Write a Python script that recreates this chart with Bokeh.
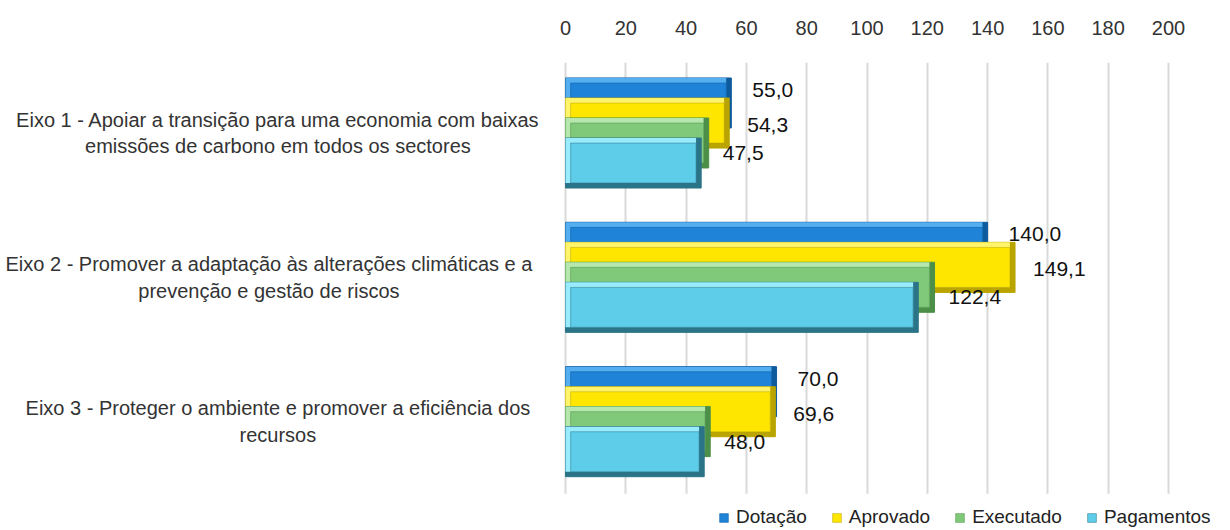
from bokeh.plotting import figure
from bokeh.models import FixedTicker, Range1d, Legend, LegendItem, BoxAnnotation
from bokeh.core.properties import value
from bokeh.embed import file_html
from bokeh.resources import INLINE

# ---------------- data ----------------
categories = [
    "Eixo 1 - Apoiar a transição para uma economia com baixas\nemissões de carbono em todos os sectores",
    "Eixo 2 - Promover a adaptação às alterações climáticas e a\nprevenção e gestão de riscos",
    "Eixo 3 - Proteger o ambiente e promover a eficiência dos\nrecursos",
]
series_names = ["Dotação", "Aprovado", "Executado", "Pagamentos"]
dotacao = [55.0, 140.0, 70.0]
aprovado = [54.3, 149.1, 69.6]
executado = [47.5, 122.4, 48.0]
pagamentos = [45.0, 117.0, 46.0]
x_ticks = [0, 20, 40, 60, 80, 100, 120, 140, 160, 180, 200]
labelled = [True, True, True, False]

series_values = [dotacao, aprovado, executado, pagamentos]

# ---------------- styles ----------------
FONT = "Liberation Sans"
colors = [  # (light bevel, main, dark bevel)
    ("#55aef0", "#1f83d8", "#0d5a9c"),
    ("#fff46a", "#ffe600", "#b9a400"),
    ("#b6e8ae", "#80c97a", "#4c8f48"),
    ("#98ecfd", "#5dcde9", "#2b7488"),
]
dodge = [-0.208, -0.069, 0.069, 0.208]
bar_h = 0.3465
bev_y = 0.035
bev_x = 1.7
label_dx = [21, 18, 14]
label_dy = [-13, 2, 10]

W, H = 1230, 530
px_per_x = 3.015
px_per_y = 144.33
frame_left, frame_top = 565, 62
x_start = -frame_left / px_per_x
x_end = (W - frame_left) / px_per_x
y_top = -0.4885
y_bottom = y_top + (H - frame_top) / px_per_y

p = figure(width=W, height=H, output_backend="svg", toolbar_location=None,
           x_range=Range1d(x_start, x_end), y_range=Range1d(y_bottom, y_top),
           x_axis_location="above",
           min_border_left=0, min_border_right=0, min_border_top=frame_top, min_border_bottom=0)
p.outline_line_color = None
p.background_fill_color = "white"
p.yaxis.visible = False

p.xgrid.ticker = FixedTicker(ticks=x_ticks)
p.xgrid.grid_line_color = "#d9d9d9"
p.xgrid.grid_line_width = 2
p.ygrid.grid_line_color = None

p.xaxis.ticker = FixedTicker(ticks=x_ticks)
p.xaxis.axis_line_color = None
p.xaxis.major_tick_line_color = None
p.xaxis.minor_tick_line_color = None
p.xaxis.major_label_standoff = 22
p.xaxis.major_label_text_font_size = "20px"
p.xaxis.major_label_text_font = FONT
p.xaxis.major_label_text_color = "#333333"

# white band below the last group so that grid lines stop there
p.add_layout(BoxAnnotation(top=len(categories) - 0.5, fill_color="white", fill_alpha=1,
                           line_color=None, level="underlay"))

n = len(categories)

# category labels: right edge left of the axis origin, lines centred in the block
cat_offsets = []
for c in categories:
    est_w = max(len(s) for s in c.split("\n")) * 8.95
    cat_offsets.append(-37 - est_w / 2)
p.text(x=[0] * n, y=list(range(n)), text=categories, x_offset=cat_offsets,
       text_font=value(FONT), text_font_size="20px", text_color="#333333",
       text_align="center", text_baseline="middle", text_line_height=1.2)

items = []
for si, (name, vals) in enumerate(zip(series_names, series_values)):
    light, main, dark = colors[si]
    ys = [i + dodge[si] for i in range(n)]
    p.hbar(y=ys, left=0, right=vals, height=bar_h, fill_color=dark, line_color=dark, line_width=1)
    p.hbar(y=[y - bev_y / 2 for y in ys], left=0, right=[v - bev_x for v in vals],
           height=bar_h - bev_y, fill_color=light, line_color=None)
    r = p.hbar(y=ys, left=bev_x, right=[v - bev_x for v in vals], height=bar_h - 2 * bev_y,
               fill_color=main, line_color=dark, line_width=0.5)
    items.append(LegendItem(label=name, renderers=[r]))

for si, vals in enumerate(series_values):
    if not labelled[si]:
        continue
    ys = [i + dodge[si] for i in range(n)]
    p.text(x=vals, y=ys, text=[f"{v:.1f}".replace(".", ",") for v in vals],
           x_offset=label_dx[si], y_offset=label_dy[si],
           text_font=value(FONT), text_font_size="21px", text_color="#111111",
           text_align="left", text_baseline="middle")

legend = Legend(items=items, orientation="horizontal", location=(718, 2),
                padding=0, margin=0, spacing=24, label_standoff=7,
                glyph_width=11, glyph_height=11,
                label_text_font=FONT, label_text_font_size="19px", label_text_color="#222222",
                border_line_color=None, background_fill_alpha=0)
p.add_layout(legend)

open("out.html", "w").write(file_html(p, INLINE))
